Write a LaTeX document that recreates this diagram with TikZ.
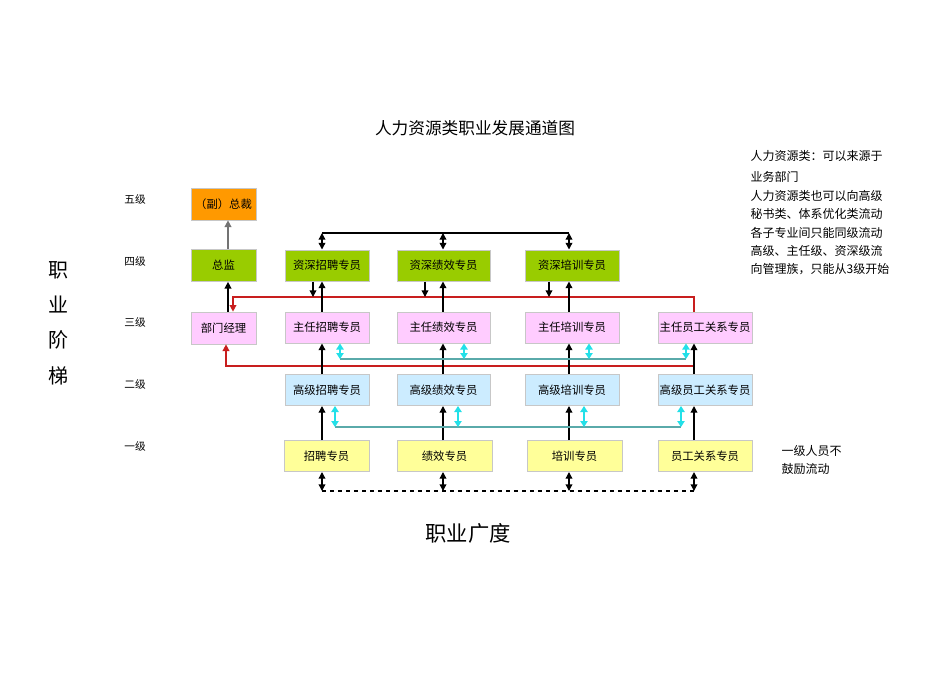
\documentclass[tikz,border=0pt]{standalone}
\usepackage{fontspec}
\setmainfont{Noto Sans CJK SC}
\usetikzlibrary{arrows.meta}

\definecolor{zcOrange}{HTML}{FF9900}
\definecolor{zcGreen}{HTML}{99CC00}
\definecolor{zcPink}{HTML}{FFCCFF}
\definecolor{zcBlue}{HTML}{CCECFF}
\definecolor{zcYellow}{HTML}{FFFF99}
\definecolor{zcRed}{HTML}{C81E1E}
\definecolor{zcCyan}{HTML}{22E0E8}
\definecolor{zcTeal}{HTML}{5AAAAA}

\tikzset{
  box/.style={draw=black!22, line width=0.5pt, inner sep=0pt,
    minimum height=23.5pt, font=\fontsize{8.5}{10}\selectfont},
  uparr/.style={line width=1pt, -{Triangle[length=5pt,width=5pt]}},
  dbl/.style={line width=1pt,
    {Triangle[length=5pt,width=5pt]}-{Triangle[length=5pt,width=5pt]}},
  cyanarr/.style={line width=1pt, zcCyan,
    {Triangle[length=4.5pt,width=5.5pt]}-{Triangle[length=4.5pt,width=5.5pt]}},
  redline/.style={line width=1.1pt, zcRed, -{Triangle[length=5pt,width=5pt]}},
  lvl/.style={font=\fontsize{8}{10}\selectfont}
}

\begin{document}
\begin{tikzpicture}[x=0.75pt,y=-0.75pt]
\useasboundingbox (0,0) rectangle (950,672);

% 标题
\node[font=\fontsize{12.5}{15}\selectfont] (title) at (475,128) {人力资源类职业发展通道图};

% 级别
\foreach \lv/\ly [count=\k] in {五级/199,四级/261,三级/322,二级/384,一级/446}{
  \node[lvl] (lv\k) at (135,\ly) {\lv};
}

% 纵轴、横轴
\node[align=center, font=\fontsize{15}{26.5}\selectfont] (jieti) at (58,323) {职\\业\\阶\\梯};
\node[font=\fontsize{16}{19}\selectfont] (guangdu) at (468,533) {职业广度};

% 管理线
\node[box, fill=zcOrange, minimum width=48.75pt, minimum height=24pt] (fz) at (223.5,204) {（副）总裁};
\node[box, fill=zcGreen, minimum width=48.75pt, minimum height=24pt] (zj) at (223.5,265.5) {总监};
\node[box, fill=zcPink, minimum width=48.75pt, minimum height=24pt] (bm) at (223.5,328) {部门经理};

% 列坐标
\foreach \vx/\dx/\ax/\bx [count=\c] in {322/313/340/335,443/425/464/458,569/549/589/584,694/0/686/681}{
  \coordinate (v\c) at (\vx,0);
  \coordinate (d\c) at (\dx,0);
  \coordinate (a\c) at (\ax,0);
  \coordinate (b\c) at (\bx,0);
}
\coordinate (v0) at (228,0);
\coordinate (r1) at (233,0);
\coordinate (r2) at (226,0);

% 四级
\foreach \txt/\cx/\w [count=\c] in {资深招聘专员/327/63pt,资深绩效专员/443.5/70pt,资深培训专员/572/70.5pt}{
  \node[box, fill=zcGreen, minimum width=\w] (zs\c) at (\cx,265.5) {\txt};
}
% 三级
\foreach \txt/\cx/\w [count=\c] in {主任招聘专员/327/63pt,主任绩效专员/443.5/70pt,主任培训专员/572/70.5pt,主任员工关系专员/705/70.5pt}{
  \node[box, fill=zcPink, minimum width=\w] (zr\c) at (\cx,327.5) {\txt};
}
% 二级
\foreach \txt/\cx/\w [count=\c] in {高级招聘专员/327/63pt,高级绩效专员/443.5/70pt,高级培训专员/572/70.5pt,高级员工关系专员/705/70.5pt}{
  \node[box, fill=zcBlue, minimum width=\w] (gj\c) at (\cx,390) {\txt};
}
% 一级
\foreach \txt/\cx/\w [count=\c] in {招聘专员/326.5/64pt,绩效专员/444.5/71pt,培训专员/574.5/71pt,员工关系专员/705/70.5pt}{
  \node[box, fill=zcYellow, minimum width=\w] (yj\c) at (\cx,456) {\txt};
}

% 说明
\node[anchor=north west, align=left, font=\fontsize{9}{13.8}\selectfont] (note) at (746,146)
  {人力资源类：可以来源于\\[2pt]业务部门\\人力资源类也可以向高级\\秘书类、体系优化类流动\\各子专业间只能同级流动\\高级、主任级、资深级流\\向管理族，只能从3级开始};
\node[anchor=north west, align=left, font=\fontsize{9}{13.5}\selectfont] (note1) at (777,441)
  {一级人员不\\鼓励流动};

% 管理晋升
\draw[uparr, black!55] (zj.north -| v0) -- (fz.south -| v0);
\draw[uparr] (bm.north -| v0) -- (zj.south -| v0);

% 资深之间
\coordinate (top) at (0,233);
\draw[line width=1pt] (top -| v1) -- (top -| v3);
\foreach \c in {1,2,3}{
  \draw[dbl] (top -| v\c) -- (zs\c.north -| v\c);
}

% 红线
\coordinate (redA) at (0,297);
\coordinate (redB) at (0,366);
\draw[redline] (zr4.north -| v4) |- (redA -| r1) -- (bm.north -| r1);
\draw[redline] (redB -| v4) -- (redB -| r2) -- (bm.south -| r2);

% 主任 - 资深
\foreach \c in {1,2,3}{
  \draw[uparr] (zs\c.south -| d\c) -- (redA -| d\c);
  \draw[uparr] (zr\c.north -| v\c) -- (zs\c.south -| v\c);
}

% 纵向晋升
\foreach \c in {1,...,4}{
  \draw[uparr] (gj\c.north -| v\c) -- (zr\c.south -| v\c);
  \draw[uparr] (yj\c.north -| v\c) -- (gj\c.south -| v\c);
}

% 同级流动
\coordinate (cyA) at (0,359);
\coordinate (cyB) at (0,427);
\draw[zcTeal, line width=1pt] (cyA -| a1) -- (cyA -| a4);
\draw[zcTeal, line width=1pt] (cyB -| b1) -- (cyB -| b4);
\foreach \c in {1,...,4}{
  \draw[cyanarr] (zr\c.south -| a\c) -- (cyA -| a\c);
  \draw[cyanarr] (gj\c.south -| b\c) -- (cyB -| b\c);
}

% 一级
\coordinate (bot) at (0,491);
\draw[dashed, line width=1pt] (bot -| v1) -- (bot -| v4);
\foreach \c in {1,...,4}{
  \draw[dbl] (yj\c.south -| v\c) -- (bot -| v\c);
}

\end{tikzpicture}
\end{document}
